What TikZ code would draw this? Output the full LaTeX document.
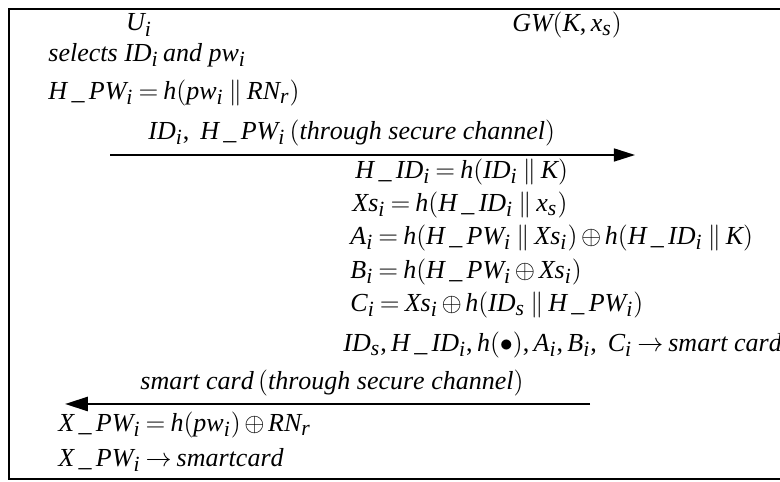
\documentclass[tikz,border=0pt]{standalone}
\usepackage{fontspec}
\setmainfont{Liberation Serif}
\usepackage[italic]{mathastext}
\usetikzlibrary{arrows.meta}
\thickmuskip=3.5mu\relax
\medmuskip=2.5mu\relax

\begin{document}
\begin{tikzpicture}[x=0.4615pt,y=-0.4615pt,
	eq/.style={anchor=west,inner sep=0pt,font=\fontsize{12}{14}\selectfont},
	msg/.style={line width=0.7pt,-{Triangle[length=9.7pt,width=6pt]}},
	reply/.style={line width=1.15pt,-{Triangle[length=10.6pt,width=6.5pt]}}]
		\useasboundingbox (0,0) rectangle (780,482);
		\draw[line width=1pt] (790,9) -- (9,9) -- (9,479) -- (790,479);
		
		\node[eq,anchor=center] (user) at (139,25) {$U_i$};
		\node[eq,anchor=center] (gw) at (567,25) {$GW(K,x_s)$};
		\node[eq] (sel) at (48,55) {$selects\ ID_i\,and\ pw_i$};
		\node[eq] (hpw) at (48,93) {$H\,\_\,PW_i = h(pw_i \parallel RN_r)$};
		
		% registration request
		\node[eq] (req) at (148,133) {$ID_i,\ H\,\_\,PW_i\,(through\ secure\ channel)$};
		\coordinate (req-s) at (110,155);
		\coordinate (req-e) at (635,155);
		\draw[msg] (req-s) -- (req-e);
		
		\node[eq] (hid) at (355,172) {$H\,\_\,ID_i = h(ID_i \parallel K)$};
		\node[eq] (xs) at (352,205) {$Xs_i = h(H\,\_\,ID_i \parallel x_s)$};
		\node[eq] (ai) at (350,238) {$A_i = h(H\,\_\,PW_i \parallel Xs_i)\oplus h(H\,\_\,ID_i \parallel K)$};
		\node[eq] (bi) at (350,272) {$B_i = h(H\,\_\,PW_i \oplus Xs_i)$};
		\node[eq] (ci) at (350,305) {$C_i = Xs_i \oplus h(ID_s \parallel H\,\_\,PW_i)$};
		\node[eq] (card) at (343,345) {$ID_s, H\,\_\,ID_i, h(\bullet), A_i, B_i,\ C_i \to smart\ card$};
		
		% smart card back to user
		\node[eq] (rep) at (140,383) {$smart\ card\,(through\ secure\ channel)$};
		\coordinate (rep-s) at (590,404);
		\coordinate (rep-e) at (65,404);
		\draw[reply] (rep-s) -- (rep-e);
		
		\node[eq] (xpw) at (58,425) {$X\,\_\,PW_i = h(pw_i)\oplus RN_r$};
		\node[eq] (store) at (58,460) {$X\,\_\,PW_i \to smartcard$};
		
		\end{tikzpicture}
\end{document}
